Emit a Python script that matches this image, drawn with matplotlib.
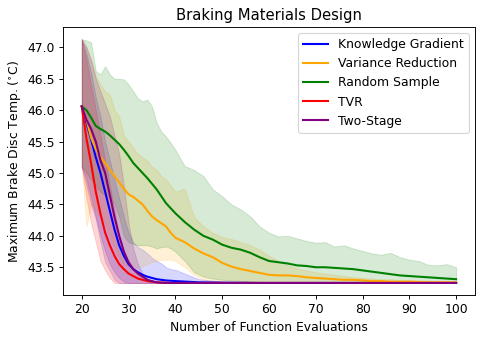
import matplotlib
matplotlib.use("Agg")
import matplotlib.pyplot as plt

X_FAST = list(range(20, 41)) + [45, 50, 55, 60, 70, 80, 90, 100]
X_SLOW = list(range(20, 41)) + list(range(42, 101, 2))

kg_mean = [46.06, 45.80, 45.53, 45.25, 45.00, 44.70, 44.40, 44.10, 43.85, 43.68, 43.55,
           43.47, 43.42, 43.38, 43.35, 43.33, 43.31, 43.30, 43.29, 43.285, 43.28,
           43.26, 43.255, 43.25, 43.25, 43.25, 43.25, 43.25, 43.25]
kg_upper = [47.13, 46.90, 46.60, 46.20, 45.90, 45.50, 45.20, 44.90, 44.60, 44.30, 44.05,
            43.90, 43.82, 43.78, 43.72, 43.65, 43.60, 43.56, 43.50, 43.47, 43.46,
            43.31, 43.27, 43.28, 43.25, 43.25, 43.25, 43.25, 43.25]
kg_lower = [45.10, 44.90, 44.60, 44.30, 44.00, 43.75, 43.55, 43.42, 43.33, 43.27, 43.25,
            43.25, 43.25, 43.25, 43.25, 43.25, 43.25, 43.25, 43.25, 43.25, 43.25,
            43.25, 43.25, 43.25, 43.25, 43.25, 43.25, 43.25, 43.25]

tvr_mean = [46.06, 45.55, 45.15, 44.70, 44.35, 44.05, 43.85, 43.68, 43.55, 43.47, 43.40,
            43.36, 43.32, 43.30, 43.28, 43.27, 43.26, 43.255, 43.255, 43.25, 43.25,
            43.25, 43.25, 43.25, 43.25, 43.25, 43.25, 43.25, 43.25]
tvr_upper = [47.13, 46.80, 46.40, 46.00, 45.60, 45.20, 44.80, 44.40, 44.00, 43.75, 43.55,
             43.45, 43.38, 43.32, 43.28, 43.26, 43.25, 43.25, 43.25, 43.25, 43.25,
             43.25, 43.25, 43.25, 43.25, 43.25, 43.25, 43.25, 43.25]
tvr_lower = [45.10, 44.60, 44.20, 43.90, 43.60, 43.45, 43.33, 43.25, 43.25, 43.25, 43.25,
             43.25, 43.25, 43.25, 43.25, 43.25, 43.25, 43.25, 43.25, 43.25, 43.25,
             43.25, 43.25, 43.25, 43.25, 43.25, 43.25, 43.25, 43.25]

ts_mean = [46.06, 45.85, 45.70, 45.50, 45.20, 45.00, 44.65, 44.30, 44.00, 43.75, 43.58,
           43.47, 43.40, 43.35, 43.30, 43.28, 43.26, 43.255, 43.25, 43.25, 43.25,
           43.25, 43.25, 43.25, 43.25, 43.25, 43.25, 43.25, 43.25]
ts_upper = [47.13, 47.00, 46.80, 46.50, 46.30, 46.10, 45.90, 45.60, 45.30, 44.80, 44.20,
            43.80, 43.55, 43.40, 43.32, 43.28, 43.26, 43.25, 43.25, 43.25, 43.25,
            43.25, 43.25, 43.25, 43.25, 43.25, 43.25, 43.25, 43.25]
ts_lower = [45.10, 44.80, 44.50, 44.26, 43.90, 43.58, 43.45, 43.30, 43.25, 43.25, 43.25,
            43.25, 43.25, 43.25, 43.25, 43.25, 43.25, 43.25, 43.25, 43.25, 43.25,
            43.25, 43.25, 43.25, 43.25, 43.25, 43.25, 43.25, 43.25]

vr_mean = [46.06, 45.85, 45.56, 45.38, 45.25, 45.16, 45.05, 44.95, 44.85, 44.75, 44.66,
           44.62, 44.56, 44.50, 44.40, 44.31, 44.25, 44.20, 44.15, 44.05, 43.97,
           43.90, 43.80, 43.72, 43.66, 43.57, 43.51, 43.47, 43.44, 43.41, 43.38,
           43.37, 43.37, 43.36, 43.34, 43.33, 43.32, 43.31, 43.30, 43.30, 43.29,
           43.28, 43.28, 43.27, 43.27, 43.27, 43.265, 43.26, 43.26, 43.26, 43.26]
vr_upper = [47.13, 47.00, 46.80, 46.55, 46.40, 46.30, 46.25, 46.00, 45.90, 45.60, 45.50,
            45.40, 45.30, 45.25, 45.20, 45.10, 45.05, 44.95, 44.90, 44.80, 44.70,
            44.75, 44.30, 44.15, 44.05, 43.98, 43.95, 43.90, 43.85, 43.78, 43.68,
            43.60, 43.53, 43.48, 43.45, 43.42, 43.40, 43.38, 43.36, 43.34, 43.33,
            43.32, 43.31, 43.31, 43.30, 43.30, 43.29, 43.29, 43.28, 43.28, 43.28]
vr_lower = [45.10, 44.15, 44.50, 44.40, 44.30, 44.20, 44.00, 43.80, 43.65, 43.55, 43.52,
            43.50, 43.50, 43.52, 43.55, 43.58, 43.60, 43.62, 43.62, 43.62, 43.60,
            43.50, 43.38, 43.30, 43.28, 43.27, 43.26, 43.26, 43.25, 43.25, 43.25,
            43.25, 43.25, 43.25, 43.25, 43.25, 43.25, 43.25, 43.25, 43.25, 43.25,
            43.25, 43.25, 43.25, 43.25, 43.25, 43.25, 43.25, 43.25, 43.25, 43.25]

rs_mean = [46.06, 46.00, 45.88, 45.75, 45.70, 45.66, 45.60, 45.53, 45.46, 45.37, 45.27,
           45.16, 45.08, 45.00, 44.92, 44.83, 44.74, 44.63, 44.52, 44.44, 44.36,
           44.22, 44.10, 44.00, 43.94, 43.86, 43.81, 43.78, 43.73, 43.66, 43.60,
           43.58, 43.56, 43.53, 43.52, 43.50, 43.50, 43.49, 43.48, 43.47, 43.45,
           43.43, 43.41, 43.39, 43.37, 43.36, 43.35, 43.34, 43.33, 43.32, 43.31]
rs_upper = [47.13, 47.11, 47.08, 46.62, 46.57, 46.70, 46.57, 46.50, 46.50, 46.49, 46.41,
            46.30, 46.19, 46.14, 46.17, 46.06, 45.80, 45.66, 45.58, 45.48, 45.37,
            45.11, 45.05, 44.95, 44.74, 44.63, 44.50, 44.42, 44.31, 44.15, 44.05,
            43.99, 44.00, 43.96, 43.92, 43.89, 43.90, 43.83, 43.85, 43.80, 43.76,
            43.72, 43.70, 43.73, 43.66, 43.62, 43.60, 43.54, 43.53, 43.55, 43.50]
rs_lower = [45.10, 45.00, 44.90, 44.80, 44.70, 44.65, 44.60, 44.50, 44.30, 44.00, 43.90,
            43.87, 43.85, 43.85, 43.85, 43.83, 43.80, 43.82, 43.83, 43.80, 43.75,
            43.60, 43.42, 43.35, 43.32, 43.30, 43.29, 43.28, 43.27, 43.27, 43.26,
            43.26, 43.26, 43.255, 43.25, 43.25, 43.25, 43.25, 43.25, 43.25, 43.25,
            43.25, 43.25, 43.25, 43.25, 43.25, 43.25, 43.25, 43.25, 43.25, 43.25]

series = [
    ("Knowledge Gradient", "blue", X_FAST, kg_mean, kg_lower, kg_upper),
    ("Variance Reduction", "orange", X_SLOW, vr_mean, vr_lower, vr_upper),
    ("Random Sample", "green", X_SLOW, rs_mean, rs_lower, rs_upper),
    ("TVR", "red", X_FAST, tvr_mean, tvr_lower, tvr_upper),
    ("Two-Stage", "purple", X_FAST, ts_mean, ts_lower, ts_upper),
]

plt.rcParams["font.size"] = 10.7
plt.rcParams["axes.titlesize"] = 12.8

fig = plt.figure(figsize=(485 / 83, 342 / 83), dpi=83)
ax = fig.add_axes([0.130, 0.137, 0.849, 0.784])
for name, col, xs, m, lo, hi in series:
    ax.plot(xs, m, color=col, label=name, lw=1.8)
    ax.fill_between(xs, lo, hi, color=col, alpha=0.16, lw=0.8)

ax.set_title("Braking Materials Design")
ax.set_xlabel("Number of Function Evaluations")
ax.set_ylabel("Maximum Brake Disc Temp. ($^{\\circ}$C)")
ax.legend(loc="upper right")
fig.savefig("out.png", dpi=83)
